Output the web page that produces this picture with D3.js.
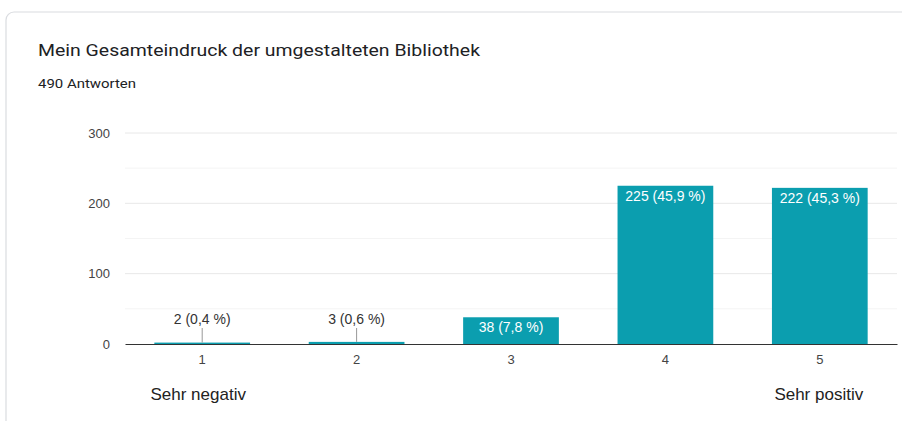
<!DOCTYPE html>
<html lang="de">
<head>
  <meta charset="UTF-8">
  <title>Mein Gesamteindruck der umgestalteten Bibliothek</title>
  <script src="https://d3js.org/d3.v7.min.js"></script>
  <style>
    body { margin: 0; background: #fff; font-family: Roboto, Arial, sans-serif; }
    svg { display: block; }
    .lbl { font-family: Arial, "Liberation Sans", sans-serif; }
  </style>
</head>
<body>
  <div id="vis"></div>
  <script>
    const categories = ["1", "2", "3", "4", "5"];
    const counts = [2, 3, 38, 225, 222];
    const percents = ["0,4", "0,6", "7,8", "45,9", "45,3"];
    const yTicks = [0, 100, 200, 300];
    const scaleEnds = ["Sehr negativ", "Sehr positiv"];
    const total = 490;

    const W = 902, H = 421;
    const margin = { top: 133, right: 5, bottom: 77, left: 125 };
    const width = W - margin.left - margin.right;
    const height = H - margin.top - margin.bottom;
    const barColor = "#0b9eaf";

    const svg = d3.select("#vis").append("svg").attr("width", W).attr("height", H);

    // card outline
    svg.append("rect")
      .attr("x", 6).attr("y", 12)
      .attr("width", 920).attr("height", 440)
      .attr("rx", 8)
      .attr("fill", "#fff")
      .attr("stroke", "#dadce0")
      .attr("stroke-width", 1.2);

    svg.append("text")
      .attr("x", 38).attr("y", 56)
      .attr("textLength", 442).attr("lengthAdjust", "spacingAndGlyphs")
      .style("font-size", "17px")
      .attr("fill", "#202124")
      .text("Mein Gesamteindruck der umgestalteten Bibliothek");

    svg.append("text")
      .attr("x", 38).attr("y", 88)
      .attr("textLength", 98).attr("lengthAdjust", "spacingAndGlyphs")
      .style("font-size", "13.5px")
      .attr("fill", "#202124")
      .text(total + " Antworten");

    const g = svg.append("g").attr("transform", `translate(${margin.left},${margin.top})`);

    const x = d3.scaleBand().domain(categories).range([0, width]).paddingInner(0.38).paddingOuter(0.19);
    const y = d3.scaleLinear().domain([0, 300]).range([height, 0]);

    // minor gridlines
    g.selectAll(".minor")
      .data([50, 150, 250])
      .enter().append("line")
      .attr("x1", 0).attr("x2", width)
      .attr("y1", d => y(d)).attr("y2", d => y(d))
      .attr("stroke", "#f4f4f4");

    // major gridlines
    g.selectAll(".major")
      .data(yTicks.slice(1))
      .enter().append("line")
      .attr("x1", 0).attr("x2", width)
      .attr("y1", d => y(d)).attr("y2", d => y(d))
      .attr("stroke", "#e8e8e8");

    const yAxis = g.append("g")
      .call(d3.axisLeft(y).tickValues(yTicks).tickSize(0).tickPadding(15));
    yAxis.select(".domain").remove();
    yAxis.selectAll("text").attr("class", "lbl").style("font-size", "13px").attr("fill", "#444");

    g.selectAll(".bar")
      .data(counts)
      .enter().append("rect")
      .attr("x", (d, i) => x(categories[i]))
      .attr("y", d => y(d))
      .attr("width", x.bandwidth())
      .attr("height", d => height - y(d))
      .attr("fill", barColor);

    const xAxis = g.append("g")
      .attr("transform", `translate(0,${height})`)
      .call(d3.axisBottom(x).tickSize(0).tickPadding(11));
    xAxis.select(".domain").attr("stroke", "#333");
    xAxis.selectAll("text").attr("class", "lbl").style("font-size", "13px").attr("fill", "#444");

    // value labels
    counts.forEach((c, i) => {
      const cx = x(categories[i]) + x.bandwidth() / 2;
      const label = `${c} (${percents[i]} %)`;
      const inside = height - y(c) > 20;
      if (inside) {
        g.append("text")
          .attr("class", "lbl")
          .attr("x", cx).attr("y", y(c) + 15)
          .attr("text-anchor", "middle")
          .style("font-size", "14px")
          .attr("fill", "#fff")
          .text(label);
      } else {
        g.append("line")
          .attr("x1", cx).attr("x2", cx)
          .attr("y1", height - 16).attr("y2", y(c))
          .attr("stroke", "#999");
        g.append("text")
          .attr("class", "lbl")
          .attr("x", cx).attr("y", height - 20)
          .attr("text-anchor", "middle")
          .style("font-size", "14px")
          .attr("fill", "#333")
          .text(label);
      }
    });

    // scale end labels
    [0, 4].forEach((idx, k) => {
      g.append("text")
        .attr("class", "lbl")
        .attr("x", x(categories[idx]) + x.bandwidth() / 2 - (k === 0 ? 4 : 1))
        .attr("y", height + 56)
        .attr("text-anchor", "middle")
        .style("font-size", "17px")
        .attr("fill", "#222")
        .text(scaleEnds[k]);
    });
  </script>
</body>
</html>
